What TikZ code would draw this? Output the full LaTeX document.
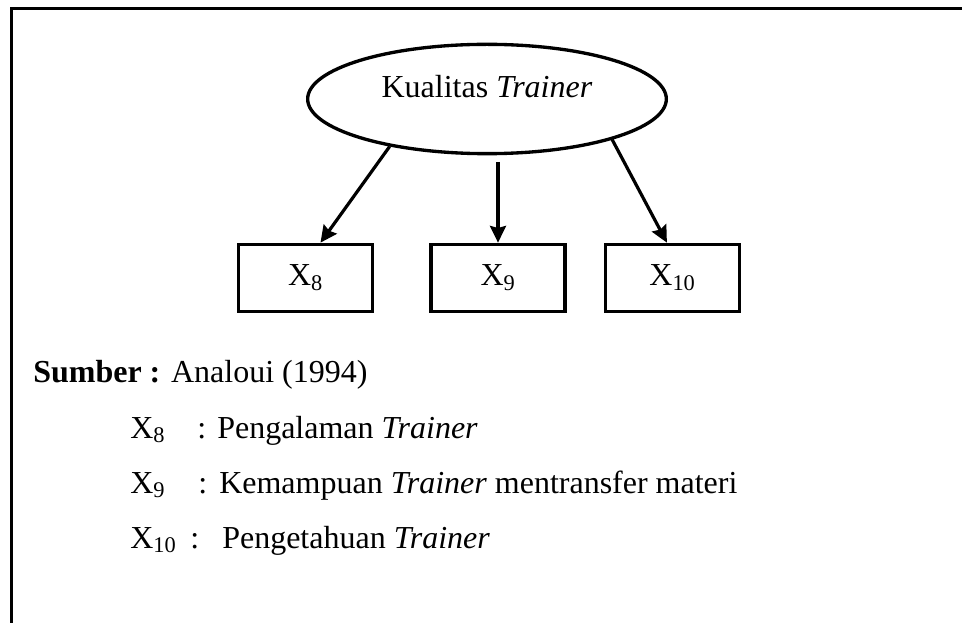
\documentclass[tikz,border=0pt]{standalone}
\usepackage{fontspec}
\setmainfont{Liberation Serif}
\usetikzlibrary{shapes.geometric,arrows.meta}

\tikzset{
  konstruk/.style={ellipse,draw,line width=2.5pt,minimum width=269pt,minimum height=82pt,
    inner sep=0pt,text height=16pt,text depth=17.5pt},
  indikator/.style={rectangle,draw,line width=2.8pt,minimum width=100.5pt,minimum height=50.25pt,inner sep=0pt},
  ket/.style={anchor=base west,inner sep=0pt},
}

\begin{document}
\begin{tikzpicture}[x=0.75pt,y=-0.75pt,every node/.style={font=\fontsize{24}{28}\selectfont}]
  \useasboundingbox (0,0) rectangle (962,623);
  % bingkai
  \draw[line width=2.8pt] (11.5,623) -- (11.5,8.5) -- (962,8.5);

  \node[konstruk] (kualitas) at (487,99) {Kualitas \textit{Trainer}};
  \node[indikator] (x8) at (305.5,278) {X\textsubscript{8}};
  \node[indikator] (x9) at (498,278) {X\textsubscript{9}};
  \node[indikator] (x10) at (672.5,278) {X\textsubscript{10}};
  \path[-{Stealth[length=12.5pt,width=12pt,inset=1.5pt]},line width=2.4pt]
    (kualitas.-154) edge (x8.67)
    (kualitas.south -| x9.north) edge[shorten <=5pt] (x9.north)
    (kualitas.-18) edge (x10.99);

  % keterangan
  \node[ket] (sumber) at (33,382) {\textbf{Sumber :} Analoui (1994)};
  \node[ket] (k8) at (130,438) {X\textsubscript{8}};
  \node[ket] (c8) at (197,438) {:};
  \node[ket] (t8) at (217,438) {Pengalaman \textit{Trainer}};
  \node[ket] (k9) at (130,493) {X\textsubscript{9}};
  \node[ket] (c9) at (198,493) {:};
  \node[ket] (t9) at (219,493) {Kemampuan \textit{Trainer} mentransfer materi};
  \node[ket] (k10) at (130,548) {X\textsubscript{10}};
  \node[ket] (c10) at (190,548) {:};
  \node[ket] (t10) at (222,548) {Pengetahuan \textit{Trainer}};
\end{tikzpicture}
\end{document}
